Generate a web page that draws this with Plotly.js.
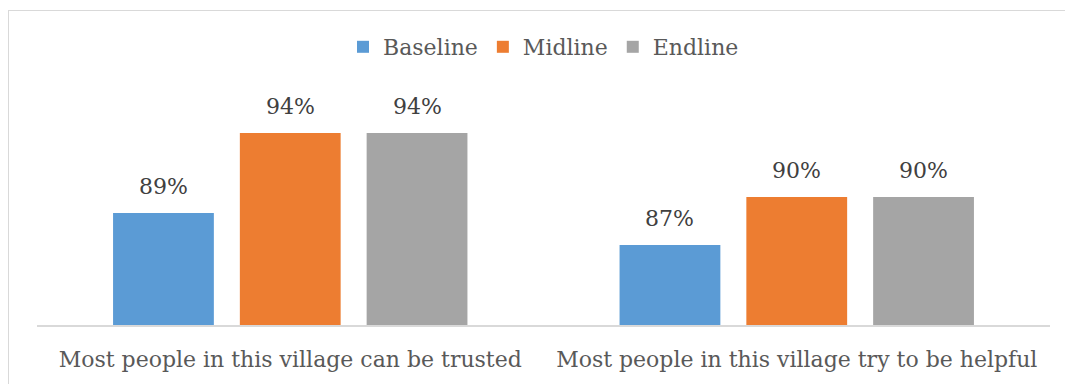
<!DOCTYPE html>
<html><head><meta charset="utf-8">
<script src="https://cdn.plot.ly/plotly-3.0.1.min.js"></script>
<style>
html,body{margin:0;padding:0;background:#fff;}
#chart{width:1065px;height:384px;position:relative;}
#frame{position:absolute;left:8px;top:10px;width:1100px;height:400px;border:1px solid #d9d9d9;pointer-events:none;}
</style></head>
<body>
<div id="chart"></div>
<div id="frame"></div>
<script>
var categories = ["Most people in this village can be trusted", "Most people in this village try to be helpful"];
var seriesNames = ["Baseline", "Midline", "Endline"];
var baseline = [89, 87];
var midline = [94, 90];
var endline = [94, 90];
var seriesValues = [baseline, midline, endline];
var colors = ["#5b9bd5", "#ed7d31", "#a5a5a5"];
var FONT = "DejaVu Serif, Georgia, serif";
var FS = 22;

var traces = seriesValues.map(function(vals, i){
  return {type:'bar', name:seriesNames[i], x:categories, y:vals,
    marker:{color:colors[i]}, hoverinfo:'skip'};
});

var slot = 127;
var annotations = [];
seriesValues.forEach(function(vals, i){
  vals.forEach(function(v, j){
    annotations.push({x:categories[j], y:v, xref:'x', yref:'y', text:v+'%',
      showarrow:false, xshift:(i-1)*slot, yshift:27, yanchor:'middle',
      font:{family:FONT, size:FS, color:'#404040'}});
  });
});

var layout = {
  width:1065, height:384,
  margin:{l:37, r:15, t:101, b:59},
  paper_bgcolor:'#fff', plot_bgcolor:'#fff',
  barmode:'group', bargap:0.249, bargroupgap:0.205,
  showlegend:true,
  legend:{orientation:'h', x:0.5, xref:'paper', xanchor:'center', y:1-47/384, yref:'container', yanchor:'middle',
    font:{family:FONT, size:FS, color:'#595959'}, traceorder:'normal'},
  xaxis:{showgrid:false, zeroline:false, showline:true, linecolor:'#d9d9d9', linewidth:2,
    ticks:'', ticklabelstandoff:14, tickfont:{family:FONT, size:FS, color:'#595959'}, fixedrange:true},
  yaxis:{range:[82, 96], showgrid:false, zeroline:false, showline:false, showticklabels:false, fixedrange:true},
  annotations:annotations
};
Plotly.newPlot('chart', traces, layout, {displayModeBar:false, staticPlot:true});
</script>
</body></html>
